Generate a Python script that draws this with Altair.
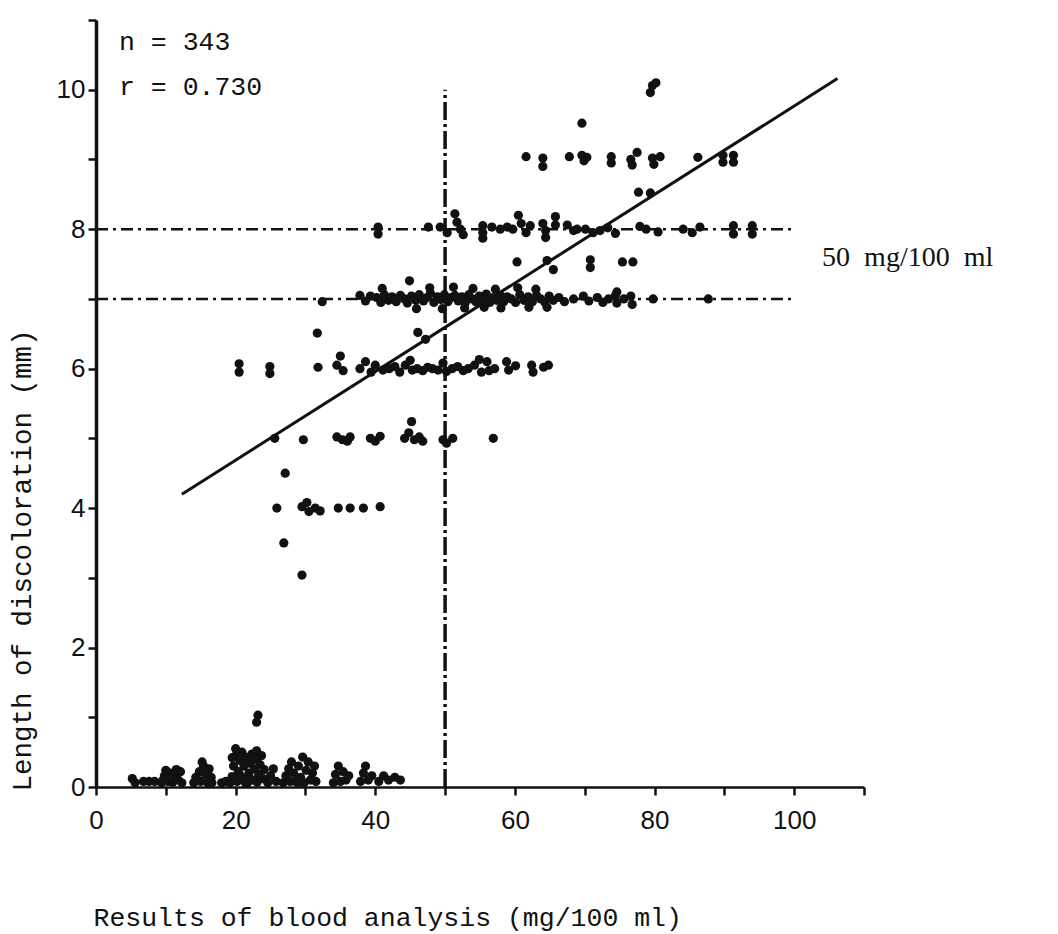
import altair as alt
import pandas as pd

# ---------------- data ----------------
# blood alcohol (mg/100 ml) and length of discoloration (mm), row by row
bottom_x = [5.2, 5.6, 6.8, 7.6, 8.4, 9.4, 9.8, 10.3, 10.6, 11.0,
            11.3, 11.8, 12.1, 12.3, 10.0, 11.5, 9.6, 14.0, 14.3, 14.8,
            15.0, 15.4, 15.7, 16.0, 16.2, 16.5, 15.2, 16.6, 14.6, 18.0,
            18.6, 19.2, 19.5, 19.7, 19.9, 20.0, 20.2, 20.4, 20.6, 20.9,
            21.0, 21.2, 21.5, 21.7, 21.9, 22.1, 22.3, 22.5, 22.7, 22.9,
            23.1, 23.3, 23.5, 23.7, 23.9, 24.1, 20.7, 21.4, 22.0, 23.0,
            19.5, 24.6, 25.0, 25.4, 25.8, 26.8, 27.2, 27.6, 27.8, 28.0,
            28.3, 28.6, 29.0, 29.3, 29.6, 29.8, 30.1, 30.4, 30.7, 31.0,
            31.3, 31.5, 28.9, 34.0, 34.3, 34.7, 35.0, 35.4, 35.8, 36.2,
            37.9, 38.3, 38.6, 39.0, 39.5, 40.5, 41.2, 41.9, 42.8, 43.6]
bottom_y = [0.12, 0.06, 0.08, 0.08, 0.08, 0.06, 0.16, 0.08, 0.20, 0.07,
            0.17, 0.10, 0.22, 0.06, 0.24, 0.25, 0.10, 0.06, 0.14, 0.22,
            0.08, 0.30, 0.18, 0.06, 0.26, 0.14, 0.36, 0.06, 0.10, 0.06,
            0.08, 0.06, 0.15, 0.30, 0.44, 0.55, 0.08, 0.22, 0.38, 0.50,
            0.12, 0.30, 0.42, 0.06, 0.20, 0.34, 0.47, 0.10, 0.26, 0.40,
            0.07, 0.18, 0.32, 0.45, 0.12, 0.25, 0.16, 0.06, 0.13, 0.52,
            0.42, 0.06, 0.16, 0.26, 0.08, 0.06, 0.16, 0.26, 0.08, 0.36,
            0.20, 0.08, 0.30, 0.14, 0.43, 0.06, 0.24, 0.36, 0.10, 0.20,
            0.30, 0.08, 0.06, 0.06, 0.18, 0.30, 0.08, 0.22, 0.10, 0.16,
            0.08, 0.20, 0.30, 0.10, 0.16, 0.08, 0.16, 0.10, 0.14, 0.10]

low_x = [27.1, 25.9, 29.5, 30.2, 30.5, 31.4, 32.1, 34.7, 36.4, 38.3,
         40.7, 26.9, 29.5, 23.0, 23.2]
low_y = [4.50, 4.00, 4.02, 4.08, 3.95, 4.00, 3.96, 4.00, 4.00, 4.00,
         4.02, 3.50, 3.04, 0.93, 1.03]

row5_x = [25.6, 29.7, 34.5, 35.3, 36.0, 36.4, 39.3, 40.0, 40.7, 44.2,
          44.8, 45.2, 45.6, 46.3, 46.8, 49.7, 50.2, 51.1, 56.9]
row5_y = [5.00, 4.98, 5.02, 4.98, 4.96, 5.02, 5.00, 4.96, 5.03, 5.00,
          5.08, 5.24, 4.98, 5.02, 4.96, 4.98, 4.93, 5.00, 5.00]

row6_x = [20.5, 20.5, 24.9, 24.9, 31.8, 34.5, 35.0, 35.4, 37.8, 38.6,
          39.4, 40.0, 41.1, 42.0, 42.8, 43.5, 44.3, 45.0, 45.3, 46.0,
          46.8, 47.5, 48.2, 49.0, 49.7, 50.2, 51.0, 51.8, 52.6, 53.3,
          54.2, 54.9, 55.2, 56.0, 56.3, 57.1, 58.8, 59.1, 60.1, 62.4,
          62.6, 64.1, 64.8, 31.7, 46.1, 47.2]
row6_y = [6.07, 5.95, 6.03, 5.93, 6.02, 6.05, 6.18, 5.97, 6.00, 6.10,
          5.95, 6.05, 5.98, 6.00, 6.03, 5.95, 6.05, 6.12, 5.98, 6.00,
          5.97, 6.02, 6.00, 5.98, 6.08, 5.96, 6.00, 6.03, 5.97, 6.00,
          6.05, 6.13, 5.95, 6.10, 5.97, 6.00, 6.10, 5.98, 6.04, 6.05,
          5.95, 6.02, 6.05, 6.51, 6.52, 6.42]

row7_x = [32.4, 37.8, 38.6, 39.3, 40.2, 40.8, 41.3, 41.9, 42.4, 43.0,
          43.6, 44.2, 44.6, 45.2, 45.8, 46.3, 46.9, 47.4, 47.9, 48.4,
          48.9, 49.4, 49.9, 50.4, 50.9, 51.4, 51.9, 52.4, 52.9, 53.4,
          53.9, 54.4, 54.9, 55.4, 55.9, 56.4, 56.9, 57.4, 57.9, 58.4,
          58.9, 59.5, 60.1, 60.7, 61.3, 61.9, 62.5, 63.1, 63.7, 64.3,
          64.9, 65.5, 66.3, 67.1, 68.4, 69.8, 70.6, 71.8, 72.6, 73.4,
          74.4, 74.6, 75.6, 76.6, 76.8, 79.8, 87.7, 41.0, 44.9, 45.9,
          47.8, 49.6, 51.2, 52.8, 54.0, 55.6, 57.2, 58.0, 60.4, 62.0,
          63.0, 64.6, 74.6, 60.3, 64.6, 65.5, 70.8, 70.8, 75.4, 76.9]
row7_y = [6.96, 7.05, 6.97, 7.04, 7.02, 6.95, 7.06, 6.98, 7.03, 6.96,
          7.05, 7.00, 6.94, 7.04, 6.98, 7.06, 6.97, 7.02, 7.08, 6.95,
          7.03, 6.99, 7.06, 6.96, 7.02, 7.05, 6.97, 7.03, 6.95, 7.06,
          7.00, 6.96, 7.04, 6.98, 7.07, 6.95, 7.02, 6.98, 7.05, 6.96,
          7.03, 7.00, 6.95, 7.06, 6.98, 7.03, 6.96, 7.05, 7.00, 6.95,
          7.04, 6.98, 7.02, 6.96, 7.00, 7.04, 6.97, 7.02, 6.95, 7.00,
          7.05, 6.94, 7.00, 7.04, 6.92, 7.00, 7.00, 7.15, 7.26, 6.86,
          7.16, 6.86, 7.17, 6.87, 7.15, 6.88, 7.14, 6.87, 7.16, 6.88,
          7.14, 6.88, 7.10, 7.53, 7.55, 7.42, 7.56, 7.45, 7.53, 7.53]

row8_x = [40.4, 40.4, 47.6, 49.3, 50.3, 51.4, 51.7, 52.2, 52.6, 55.4,
          55.4, 55.4, 56.7, 57.9, 58.9, 59.7, 60.5, 60.9, 61.6, 62.2,
          64.0, 64.4, 64.4, 65.8, 65.8, 67.5, 68.4, 68.9, 70.1, 71.2,
          72.2, 73.3, 74.4, 77.9, 78.8, 80.5, 84.1, 85.4, 86.5, 91.3,
          91.3, 94.0, 94.0, 77.7, 79.4]
row8_y = [8.03, 7.93, 8.03, 8.03, 7.95, 8.22, 8.10, 8.00, 7.92, 8.05,
          7.95, 7.87, 8.03, 8.00, 8.03, 8.00, 8.20, 8.08, 7.95, 8.05,
          8.08, 7.98, 7.88, 8.18, 8.06, 8.06, 7.98, 8.00, 8.00, 7.95,
          7.98, 8.02, 7.94, 8.04, 8.00, 7.96, 8.00, 7.95, 8.03, 8.05,
          7.93, 8.05, 7.93, 8.53, 8.52]

row9_x = [61.6, 64.0, 64.0, 67.8, 69.6, 69.9, 70.3, 73.8, 73.8, 76.6,
          76.8, 77.5, 79.7, 79.9, 80.8, 86.2, 89.8, 89.8, 91.3, 91.3,
          69.6, 79.4, 79.7, 80.2]
row9_y = [9.04, 9.02, 8.90, 9.04, 9.06, 8.98, 9.03, 9.04, 8.95, 9.00,
          8.92, 9.10, 9.02, 8.93, 9.04, 9.03, 9.06, 8.96, 9.06, 8.96,
          9.52, 9.96, 10.06, 10.10]

# regression line end points
reg_x = [12.3, 106.2]
reg_y = [4.20, 10.16]

# dash-dot reference lines (7 mm and 8 mm, 50 mg/100 ml)
h_ref_y = [8, 7]
h_ref_from = [0, 0]
h_ref_to = [100, 100]
v_ref_x = [50]
v_ref_from = [0]
v_ref_to = [10]

# annotations
note_text = ["n = 343", "r = 0.730"]
note_x = [3.3, 3.3]
note_y = [10.69, 10.04]
legal_text = ["50\u00a0 mg/100\u00a0 ml"]
legal_x = [104.0]
legal_y = [7.59]

x_ticks = list(range(0, 111, 10))
y_ticks = list(range(0, 12))

# ---------------- tables ----------------
pts = pd.DataFrame({
    "x": bottom_x + low_x + row5_x + row6_x + row7_x + row8_x + row9_x,
    "y": bottom_y + low_y + row5_y + row6_y + row7_y + row8_y + row9_y,
})
hdf = pd.DataFrame({"x": h_ref_from, "x2": h_ref_to, "y": h_ref_y})
vdf = pd.DataFrame({"x": v_ref_x, "y": v_ref_from, "y2": v_ref_to})
regdf = pd.DataFrame({"x": reg_x, "y": reg_y})
notedf = pd.DataFrame({"x": note_x, "y": note_y, "t": note_text})
legaldf = pd.DataFrame({"x": legal_x, "y": legal_y, "t": legal_text})

INK = "#111111"

xscale = alt.Scale(domain=[0, 110], nice=False, zero=False)
yscale = alt.Scale(domain=[0, 11], nice=False, zero=False)

xaxis = alt.Axis(
    values=x_ticks,
    labelExpr="datum.value % 20 == 0 && datum.value <= 100 ? datum.label : ''",
    title="Results of blood analysis (mg/100 ml)",
    grid=False, domainColor=INK, domainWidth=2.5,
    tickColor=INK, tickWidth=2.5, tickSize=8,
    labelFont="Liberation Sans", labelFontSize=26, labelColor=INK,
    labelPadding=12, labelFlush=False, labelOverlap=False,
    titleFont="Liberation Mono", titleFontSize=26.5, titleFontWeight="normal",
    titleColor=INK, titleX=-3, titleY=138, titleAlign="left",
    titleBaseline="alphabetic",
)
yaxis = alt.Axis(
    values=y_ticks,
    labelExpr="datum.value % 2 == 0 && datum.value <= 10 ? datum.label : ''",
    title="Length of discoloration (mm)",
    grid=False, domainColor=INK, domainWidth=3.5,
    tickColor=INK, tickWidth=2.5, tickSize=8,
    labelFont="Liberation Sans", labelFontSize=26, labelColor=INK,
    labelPadding=3, labelFlush=False, labelOverlap=False,
    titleFont="Liberation Mono", titleFontSize=27.5, titleFontWeight="normal",
    titleColor=INK, titleAngle=270, titleX=-74, titleY=540,
    titleAlign="center", titleBaseline="middle",
)

X = alt.X("x:Q", scale=xscale, axis=xaxis)
Y = alt.Y("y:Q", scale=yscale, axis=yaxis)

hrules = alt.Chart(hdf).mark_rule(
    color=INK, strokeWidth=2.5, strokeDash=[12, 5, 3, 5]
).encode(x=X, x2="x2:Q", y=Y)

vrule = alt.Chart(vdf).mark_rule(
    color=INK, strokeWidth=3.5, strokeDash=[18, 4, 3, 4]
).encode(x=X, y=Y, y2="y2:Q")

reg = alt.Chart(regdf).mark_line(color=INK, strokeWidth=3).encode(x=X, y=Y)

points = alt.Chart(pts).mark_circle(
    size=85, color=INK, opacity=1
).encode(x=X, y=Y)

notes = alt.Chart(notedf).mark_text(
    align="left", baseline="middle", font="Liberation Mono",
    fontSize=26.5, color=INK
).encode(x=X, y=Y, text="t:N")

legal = alt.Chart(legaldf).mark_text(
    align="left", baseline="middle", font="Liberation Serif",
    fontSize=28, color=INK
).encode(x=X, y=Y, text="t:N")

chart = alt.layer(hrules, vrule, reg, points, notes, legal).properties(
    width=768,
    height=767,
    autosize=alt.AutoSizeParams(type="none"),
    padding={"left": 88, "top": 12, "right": 186, "bottom": 150},
    background="white",
).configure_view(strokeWidth=0)

chart.save("out.html", embed_options={"renderer": "svg", "actions": False})
